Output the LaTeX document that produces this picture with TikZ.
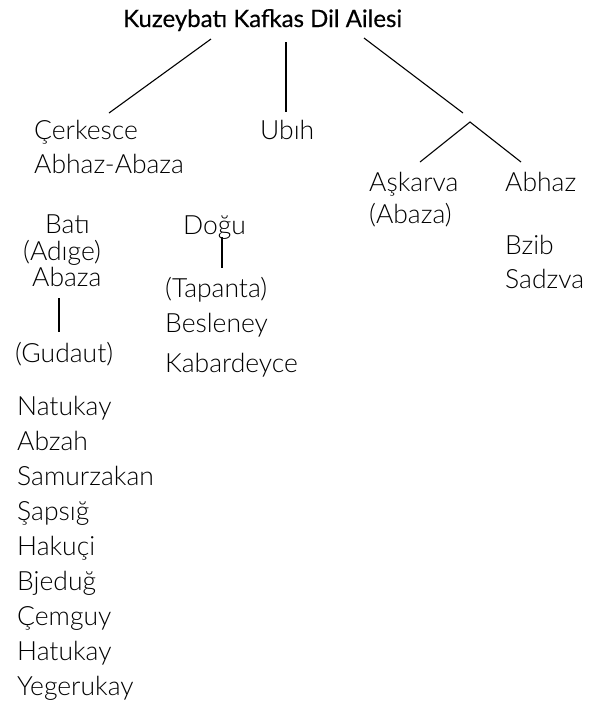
\documentclass[tikz,border=0pt]{standalone}
\usepackage{fontspec}
\setmainfont{Lato Light}
\newfontfamily\titlefamily[FakeBold=0.4]{Lato}
\newcommand{\bodyfnt}{\fontsize{26.5}{30}\selectfont}
\newcommand{\titlefnt}{\titlefamily\fontsize{24}{28}\selectfont}
\begin{document}
\begin{tikzpicture}[x=1pt,y=-1pt,
  lbl/.style={anchor=base west, inner sep=0pt, font=\bodyfnt, text=black},
  ttl/.style={anchor=base west, inner sep=0pt, font=\titlefnt, text=black},
  conn/.style={draw=black, line width=1.1pt}]
\useasboundingbox[fill=white] (0,0) rectangle (596,705);
% title
\node[ttl] (title) at (123,27) {Kuzeybatı Kafkas Dil Ailesi};
% level 1
\node[lbl] (cerk) at (34,139) {Çerkesce};
\node[lbl] (abhazab) at (34,173) {Abhaz-Abaza};
\node[lbl] (ubih) at (260,139) {Ubıh};
\node[lbl] (askarva) at (369,191) {Aşkarva};
\node[lbl] (abaza2) at (369,223) {(Abaza)};
\node[lbl] (abhaz) at (505,191) {Abhaz};
\node[lbl] (bzib) at (505,254) {Bzib};
\node[lbl] (sadzva) at (505,288) {Sadzva};
% Circassian branches
\node[lbl] (bati) at (45,233) {Batı};
\node[lbl] (adige) at (23,260) {(Adıge)};
\node[lbl] (abaza) at (32,286) {Abaza};
\node[lbl] (gudaut) at (15,362) {(Gudaut)};
\node[lbl] (dogu) at (183,234) {Doğu};
\node[lbl] (tapanta) at (165,297) {(Tapanta)};
\node[lbl] (besleney) at (165,332) {Besleney};
\node[lbl] (kabardeyce) at (165,372) {Kabardeyce};
% list
\node[lbl] (natukay) at (17,415) {Natukay};
\node[lbl] (abzah) at (17,450) {Abzah};
\node[lbl] (samurzakan) at (17,485) {Samurzakan};
\node[lbl] (sapsig) at (17,520) {Şapsığ};
\node[lbl] (hakuci) at (17,555) {Hakuçi};
\node[lbl] (bjedug) at (17,590) {Bjeduğ};
\node[lbl] (cemguy) at (17,625) {Çemguy};
\node[lbl] (hatukay) at (17,660) {Hatukay};
\node[lbl] (yegerukay) at (17,695) {Yegerukay};
% connector end points
\coordinate (tL) at (211,39);
\coordinate (cerkTop) at (109,113);
\coordinate (tM) at (286,42);
\coordinate (ubihTop) at (286,112);
\coordinate (tR) at (364,38);
\coordinate (rEnd) at (463,113);
\coordinate (apex) at (470,122);
\coordinate (askTop) at (420,162);
\coordinate (abhTop) at (521,162);
\coordinate (abazaBot) at (59,298);
\coordinate (gudautTop) at (59,332);
\coordinate (doguBot) at (222,237);
\coordinate (tapantaTop) at (222,268);
% connectors
\draw[conn] (tL) -- (cerkTop);
\draw[conn] (tM) -- (ubihTop);
\draw[conn] (tR) -- (rEnd);
\draw[conn] (askTop) -- (apex) -- (abhTop);
\draw[conn] (abazaBot) -- (gudautTop);
\draw[conn] (doguBot) -- (tapantaTop);
\end{tikzpicture}
\end{document}
